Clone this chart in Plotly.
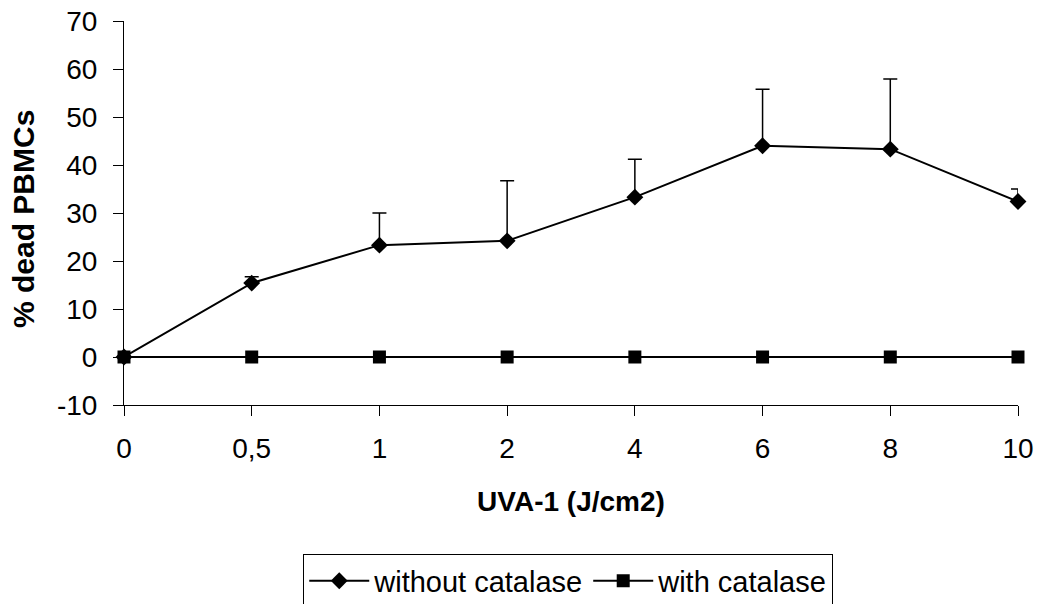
import plotly.graph_objects as go

categories = ["0", "0,5", "1", "2", "4", "6", "8", "10"]
without_catalase = [0, 15.4, 23.3, 24.2, 33.3, 44.0, 43.3, 32.4]
without_err_plus = [0, 1.3, 6.7, 12.5, 7.9, 11.8, 14.6, 2.6]
with_catalase = [0, 0, 0, 0, 0, 0, 0, 0]
y_ticks = [-10, 0, 10, 20, 30, 40, 50, 60, 70]
y_ticktext = ["-10", "0", "10", "20", "30", "40", "50", "60", "70"]

xpos = list(range(len(categories)))
FONT = "Liberation Sans, Arial, sans-serif"
FS = 28

fig = go.Figure()
fig.add_trace(go.Scatter(
    x=xpos, y=without_catalase, name="without catalase",
    mode="lines+markers",
    line=dict(color="black", width=2),
    marker=dict(symbol="diamond", size=13, color="black"),
    error_y=dict(type="data", symmetric=False, array=without_err_plus,
                 arrayminus=[0] * len(categories), color="black",
                 thickness=1.5, width=7),
    cliponaxis=False,
))
fig.add_trace(go.Scatter(
    x=xpos, y=with_catalase, name="with catalase",
    mode="lines+markers",
    line=dict(color="black", width=2),
    marker=dict(symbol="square", size=13, color="black"),
    cliponaxis=False,
))

fig.update_layout(
    width=1037, height=604,
    margin=dict(l=124, r=19, t=21, b=199, autoexpand=False),
    paper_bgcolor="white", plot_bgcolor="white",
    font=dict(family=FONT, size=FS, color="black"),
    showlegend=True,
    legend=dict(orientation="h", x=0.2005, xanchor="left", y=-0.389,
                yanchor="top", bordercolor="black", borderwidth=1,
                font=dict(size=29), bgcolor="white", itemwidth=60,
                traceorder="normal"),
    xaxis=dict(range=[0, 7], tickmode="array", tickvals=xpos,
               ticktext=categories, showgrid=False, zeroline=False,
               showline=True, linecolor="black", linewidth=1,
               ticks="outside", ticklen=10, tickcolor="black",
               ticklabelstandoff=8,
               title=dict(text="<b>UVA-1 (J/cm2)</b>", standoff=28,
                          font=dict(size=FS))),
    yaxis=dict(range=[-10, 70], tickmode="array", tickvals=y_ticks,
               ticktext=y_ticktext,
               showgrid=False, zeroline=False,
               showline=True, linecolor="black", linewidth=1,
               ticks="outside", ticklen=10, tickcolor="black",
               ticklabelstandoff=10),
    annotations=[dict(text="<b>% dead PBMCs</b>", textangle=-90,
                      xref="paper", yref="paper", x=0, y=0.5,
                      xanchor="center", yanchor="middle",
                      xshift=-101, yshift=-6, showarrow=False,
                      font=dict(size=30))],
)

fig.write_html("out.html")
